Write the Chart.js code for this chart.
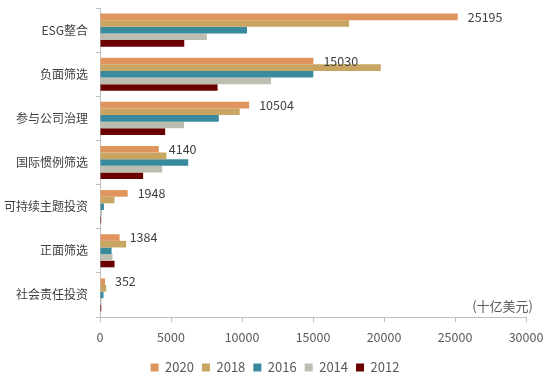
<!DOCTYPE html>
<html>
<head>
<meta charset="utf-8">
<script src="https://cdn.jsdelivr.net/npm/chart.js@4"></script>
<style>
    html, body { margin: 0; padding: 0; background: #fff; }
    #wrap { width: 550px; height: 378px; position: relative; }
</style>
</head>
<body>
<div id="wrap"><canvas id="chart"></canvas></div>
<script>
const categories = ['ESG整合', '负面筛选', '参与公司治理', '国际惯例筛选', '可持续主题投资', '正面筛选', '社会责任投资'];
const years = ['2020', '2018', '2016', '2014', '2012'];
const values2020 = [25195, 15030, 10504, 4140, 1948, 1384, 352];
const values2018 = [17544, 19771, 9835, 4679, 1018, 1842, 444];
const values2016 = [10353, 15023, 8365, 6210, 276, 818, 248];
const values2014 = [7527, 12046, 5919, 4385, 138, 880, 109];
const values2012 = [5935, 8280, 4589, 3038, 82, 1026, 89];
const xTicks = [0, 5000, 10000, 15000, 20000, 25000, 30000];
const unitLabel = '(十亿美元)';

const colors = ['#e0955e', '#c8a560', '#3a8a9e', '#bdbeb0', '#6b0000'];
const font = '"Noto Sans CJK SC", "Noto Sans", sans-serif';

// value labels on the 2020 bars + unit text near the x axis end
const labelPlugin = {
    id: 'labels',
    afterDatasetsDraw(chart) {
        const ctx = chart.ctx;
        const meta = chart.getDatasetMeta(0);
        ctx.save();
        ctx.font = '12.5px ' + font;
        ctx.fillStyle = '#404040';
        ctx.textAlign = 'left';
        ctx.textBaseline = 'middle';
        meta.data.forEach((bar, i) => {
            ctx.fillText(String(values2020[i]), bar.x + 10, bar.y);
        });
        const area = chart.chartArea;
        ctx.textAlign = 'right';
        ctx.fillStyle = '#595959';
        ctx.font = '13px ' + font;
        ctx.fillText(unitLabel, area.right + 7, area.bottom - 11);
        ctx.restore();
    },
};

const seriesValues = [values2020, values2018, values2016, values2014, values2012];

new Chart(document.getElementById('chart'), {
    type: 'bar',
    data: {
        labels: categories,
        datasets: years.map((y, i) => ({
            label: y,
            data: seriesValues[i],
            backgroundColor: colors[i],
            borderWidth: 0,
            categoryPercentage: 0.75,
            barPercentage: 1,
        })),
    },
    options: {
        indexAxis: 'y',
        responsive: true,
        maintainAspectRatio: false,
        animation: false,
        layout: { padding: { left: 0, right: 0, top: 8, bottom: -6 } },
        plugins: {
            tooltip: { enabled: false },
            legend: {
                position: 'bottom',
                labels: {
                    boxWidth: 8,
                    boxHeight: 8,
                    padding: 8,
                    color: '#595959',
                    font: { family: font, size: 13 },
                },
            },
        },
        scales: {
            x: {
                min: 0,
                max: 30000,
                afterBuildTicks(scale) {
                    scale.ticks = xTicks.map(v => ({ value: v }));
                },
                afterFit(scale) {
                    scale.height = 36;
                    scale.paddingRight = 24;
                },
                grid: { drawOnChartArea: false, drawTicks: true, tickLength: 5, color: '#bfbfbf' },
                border: { display: true, color: '#bfbfbf' },
                ticks: {
                    color: '#595959',
                    padding: 8,
                    maxRotation: 0,
                    font: { family: font, size: 12.5 },
                    callback: v => String(v),
                },
            },
            y: {
                afterFit(scale) {
                    scale.width = 100;
                    scale.paddingTop = 0;
                    scale.paddingBottom = 0;
                },
                grid: { offset: true, drawOnChartArea: false, drawTicks: true, tickLength: 4, color: '#bfbfbf' },
                border: { display: true, color: '#bfbfbf' },
                ticks: { color: '#404040', padding: 8, font: { family: font, size: 12 } },
            },
        },
    },
    plugins: [labelPlugin],
});
</script>
</body>
</html>
